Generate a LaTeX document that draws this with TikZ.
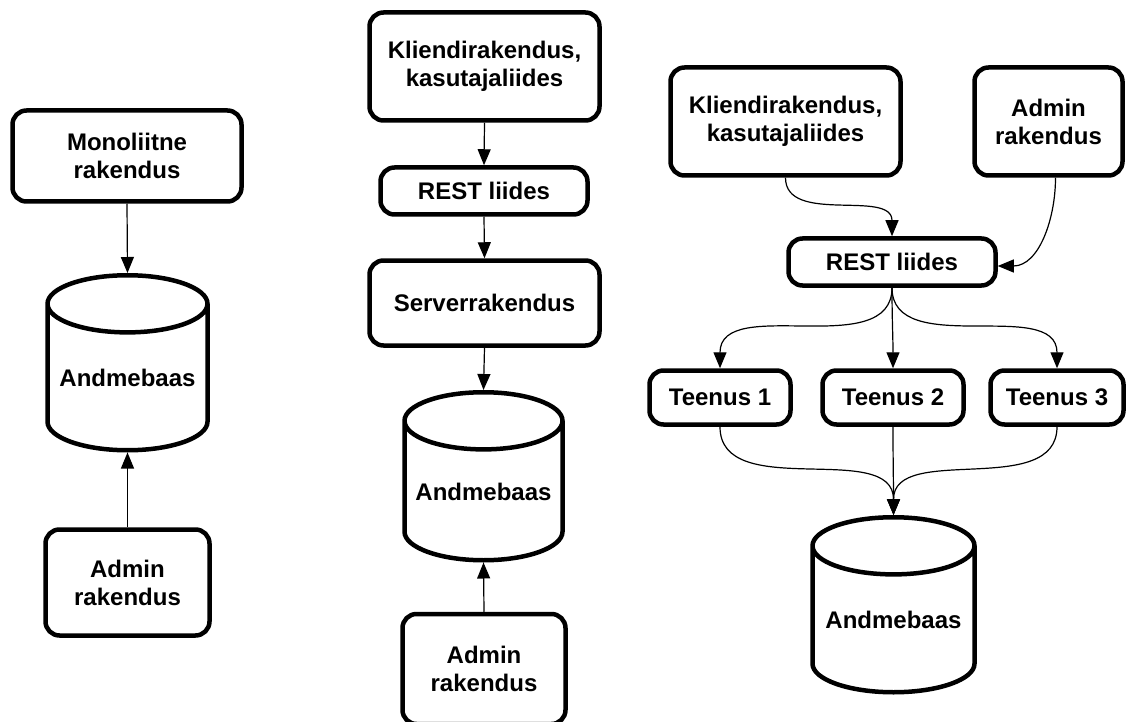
\documentclass[tikz,border=0pt]{standalone}
\usepackage{fontspec}
\setmainfont{Liberation Sans}
\usepackage{tikz}
\usetikzlibrary{arrows.meta,shapes.geometric}

\begin{document}
\begin{tikzpicture}[x=1pt, y=-1pt,
  box/.style={draw, line width=4.5pt, rounded corners=14pt, align=center,
    font=\fontsize{24}{28}\selectfont\bfseries, inner sep=0pt},
  db/.style={draw, line width=4.5pt, cylinder, shape border rotate=90, aspect=0.42,
    anchor=north, font=\fontsize{24}{28}\selectfont\bfseries, inner sep=0pt},
  arr/.style={-{Triangle[length=16pt,width=13pt]}, line width=1.2pt}]
  \useasboundingbox (0,0) rectangle (1127,722);
  % monoliit
  \node[box, minimum width=229, minimum height=91] (mono) at (127,156) {Monoliitne\\rakendus};
  \node[db, minimum width=160, minimum height=175] (dbA) at (127.5,273) {Andmebaas};
  \node[box, minimum width=164, minimum height=106] (admA) at (127.5,582.5) {Admin\\rakendus};
  \draw[arr] (mono.south) -- (dbA.north);
  \draw[arr] (admA.north) -- (dbA.south);
  % klient-server
  \node[box, minimum width=230, minimum height=108] (klB) at (484.5,66.5) {Kliendirakendus,\\kasutajaliides};
  \node[box, minimum width=207, minimum height=47] (restB) at (484,191) {REST liides};
  \node[box, minimum width=230, minimum height=85] (srvB) at (484.5,303) {Serverrakendus};
  \node[db, minimum width=158, minimum height=168] (dbB) at (483.5,390) {Andmebaas};
  \node[box, minimum width=163, minimum height=110] (admB) at (484,669) {Admin\\rakendus};
  \draw[arr] (klB.south) -- (restB.north);
  \draw[arr] (restB.south) -- (srvB.north);
  \draw[arr] (srvB.south) -- (dbB.north);
  \draw[arr] (admB.north) -- (dbB.south);
  % mikroteenused
  \node[box, minimum width=230, minimum height=108] (klC) at (785.5,121.5) {Kliendirakendus,\\kasutajaliides};
  \node[box, minimum width=148, minimum height=108] (admC) at (1048.5,121.5) {Admin\\rakendus};
  \node[box, minimum width=207, minimum height=47] (restC) at (892,262) {REST liides};
  \node[box, minimum width=141, minimum height=54] (t1) at (720,397.5) {Teenus 1};
  \node[box, minimum width=141, minimum height=54] (t2) at (893,397.5) {Teenus 2};
  \node[box, minimum width=133, minimum height=54] (t3) at (1057,397.5) {Teenus 3};
  \node[db, minimum width=162, minimum height=175] (dbC) at (893.5,515) {Andmebaas};
  \draw[arr] (klC.south) to[out=-90, in=90] (restC.north);
  \draw[arr] ([xshift=7pt]admC.south) to[out=-90, in=0] ([yshift=-4pt]restC.east);
  \foreach \t in {t1,t2,t3} {
    \draw[arr] (restC.south) to[out=-90, in=90] (\t.north);
    \draw[arr] (\t.south) to[out=-90, in=90] (dbC.north);
  }
\end{tikzpicture}
\end{document}
